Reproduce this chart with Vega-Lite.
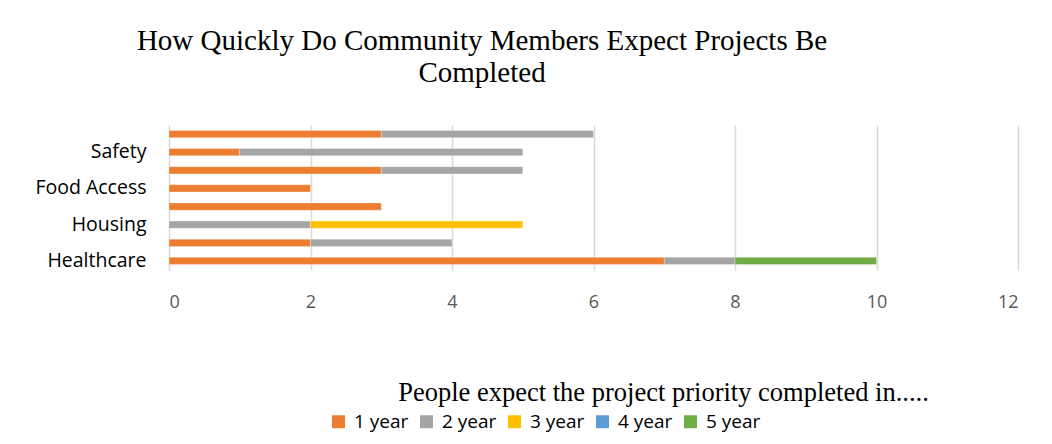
{
  "$schema": "https://vega.github.io/schema/vega-lite/v6.json",
  "autosize": "none",
  "width": 849,
  "height": 145,
  "padding": {"left": 169, "top": 125, "right": 34, "bottom": 174},
  "background": "white",
  "title": {
    "text": ["How Quickly Do Community Members Expect Projects Be", "Completed"],
    "font": "Liberation Serif",
    "fontSize": 29,
    "fontWeight": "normal",
    "color": "#000000",
    "anchor": "start",
    "frame": "group",
    "align": "center",
    "dx": 313,
    "offset": 36,
    "lineHeight": 32
  },
  "data": {
    "values": [
      {"category": "Healthcare", "period": "1 year", "value": 7},
      {"category": "Healthcare", "period": "2 year", "value": 1},
      {"category": "Healthcare", "period": "5 year", "value": 2},
      {"category": "Unlabeled 2", "period": "1 year", "value": 2},
      {"category": "Unlabeled 2", "period": "2 year", "value": 2},
      {"category": "Housing", "period": "2 year", "value": 2},
      {"category": "Housing", "period": "3 year", "value": 3},
      {"category": "Unlabeled 4", "period": "1 year", "value": 3},
      {"category": "Food Access", "period": "1 year", "value": 2},
      {"category": "Unlabeled 6", "period": "1 year", "value": 3},
      {"category": "Unlabeled 6", "period": "2 year", "value": 2},
      {"category": "Safety", "period": "1 year", "value": 1},
      {"category": "Safety", "period": "2 year", "value": 4},
      {"category": "Unlabeled 8", "period": "1 year", "value": 3},
      {"category": "Unlabeled 8", "period": "2 year", "value": 3}
    ]
  },
  "mark": {"type": "bar", "stroke": "white", "strokeWidth": 0.5, "strokeOpacity": 0.6},
  "encoding": {
    "y": {
      "field": "category",
      "type": "nominal",
      "sort": ["Unlabeled 8", "Safety", "Unlabeled 6", "Food Access", "Unlabeled 4", "Housing", "Unlabeled 2", "Healthcare"],
      "scale": {"paddingInner": 0.6, "paddingOuter": 0.3},
      "axis": {
        "title": null,
        "domain": false,
        "ticks": false,
        "grid": false,
        "labelExpr": "indexof(datum.label, 'Unlabeled') === 0 ? '' : datum.label",
        "labelFont": "Open Sans",
        "labelFontSize": 19.5,
        "labelColor": "#000000",
        "labelPadding": 23,
        "labelBaseline": "middle"
      }
    },
    "x": {
      "field": "value",
      "type": "quantitative",
      "aggregate": "sum",
      "stack": "zero",
      "scale": {"domain": [0, 12], "nice": false},
      "axis": {
        "values": [0, 2, 4, 6, 8, 10, 12],
        "title": "People expect the project priority completed in.....",
        "titleFont": "Liberation Serif",
        "titleFontSize": 26.5,
        "titleFontWeight": "normal",
        "titleColor": "#000000",
        "titleX": 494,
        "titleY": 130,
        "titleBaseline": "alphabetic",
        "titleAlign": "center",
        "domain": false,
        "ticks": false,
        "tickSize": 0,
        "grid": true,
        "gridColor": "#D9D9D9",
        "gridWidth": 1.5,
        "labelFont": "Open Sans",
        "labelFontSize": 18,
        "labelColor": "#595959",
        "labelPadding": 37,
        "labelBaseline": "alphabetic"
      }
    },
    "color": {
      "field": "period",
      "type": "nominal",
      "scale": {
        "domain": ["1 year", "2 year", "3 year", "4 year", "5 year"],
        "range": ["#ED7D31", "#A5A5A5", "#FFC000", "#5B9BD5", "#70AD47"]
      },
      "legend": {
        "title": null,
        "orient": "none",
        "direction": "horizontal",
        "legendX": 160,
        "legendY": 287,
        "symbolType": "square",
        "symbolSize": 169,
        "symbolStrokeWidth": 0,
        "symbolOpacity": 1,
        "labelFont": "Open Sans",
        "labelFontSize": 19,
        "labelColor": "#000000",
        "labelOffset": 6,
        "columnPadding": 8,
        "padding": 0
      }
    },
    "order": {"field": "period", "type": "nominal", "sort": "ascending"}
  },
  "config": {
    "view": {"stroke": null}
  }
}
